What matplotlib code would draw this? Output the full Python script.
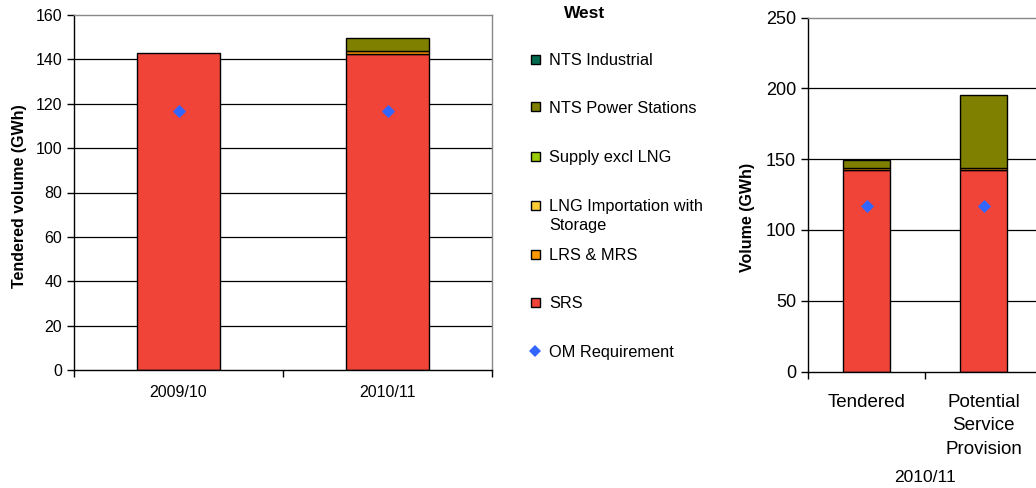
import matplotlib
matplotlib.use("Agg")
import matplotlib.pyplot as plt
import numpy as np
from matplotlib.patches import Rectangle
from matplotlib.lines import Line2D

plt.rcParams['font.family'] = ['Liberation Sans', 'DejaVu Sans']

# Left panel: tendered volume by year
years = ["2009/10", "2010/11"]
srs = [142.8, 142.6]
lrs_mrs = [0.0, 1.4]
lng_storage = [0.0, 0.0]
supply_excl_lng = [0.0, 0.0]
nts_power = [0.0, 5.6]
nts_industrial = [0.0, 0.0]
om_requirement = [116.8, 116.8]

# Right panel: 2010/11 tendered vs potential provision
cats_right = ["Tendered", "Potential\nService\nProvision"]
srs_r = [142.6, 142.6]
lrs_mrs_r = [1.4, 1.4]
nts_power_r = [5.6, 51.0]
om_r = [117.0, 117.0]
group_label = "2010/11"

series_names = ["NTS Industrial", "NTS Power Stations", "Supply excl LNG",
                "LNG Importation with\nStorage", "LRS & MRS", "SRS"]
series_colors = ["#006b4f", "#808000", "#99cc00", "#ffcc33", "#ff9900", "#f04438"]
om_color = "#3366ff"

W, H = 1036, 488
fig = plt.figure(figsize=(W / 100, H / 100), dpi=100)


def style_axes(ax, grid_vals, top_color):
    ax.set_axisbelow(True)
    for v in grid_vals:
        ax.axhline(v, color="black", lw=0.9, zorder=0)
    ax.spines['left'].set_color("black")
    ax.spines['bottom'].set_color("black")
    ax.spines['top'].set_color(top_color)
    ax.spines['right'].set_color(top_color)
    for s in ax.spines.values():
        s.set_linewidth(1.0)
    ax.tick_params(axis='y', direction='out', length=5, width=1, color='black')
    ax.tick_params(axis='x', which='major', length=0)
    ax.tick_params(axis='x', which='minor', direction='out', length=5, width=1, color='black')


# ---------- left chart ----------
ax1 = fig.add_axes([74 / W, 118 / H, 418 / W, 355 / H])
x1 = np.arange(len(years))
w1 = 0.40
bottom = np.zeros(len(years))
stack1 = [(srs, series_colors[5]), (lrs_mrs, series_colors[4]), (lng_storage, series_colors[3]),
          (supply_excl_lng, series_colors[2]), (nts_power, series_colors[1]),
          (nts_industrial, series_colors[0])]
for vals, col in stack1:
    vals = np.array(vals)
    mask = vals > 0
    ax1.bar(x1[mask], vals[mask], w1, bottom=bottom[mask], color=col,
            edgecolor="black", linewidth=1.0, zorder=2)
    bottom += vals
ax1.scatter(x1, om_requirement, marker="D", s=45, color=om_color, zorder=3, linewidths=0)
ax1.set_xlim(-0.5, len(years) - 0.5)
ax1.set_ylim(0, 160)
ax1.set_yticks(np.arange(0, 161, 20))
ax1.set_xticks(x1)
ax1.set_xticklabels(years, fontsize=11.5)
ax1.set_xticks(np.arange(-0.5, len(years)), minor=True)
ax1.tick_params(axis='y', labelsize=11.5)
ax1.tick_params(axis='x', pad=11)
style_axes(ax1, np.arange(20, 160, 20), "#888888")
ax1.set_ylabel("Tendered volume (GWh)", fontsize=11.5, fontweight="bold")
ax1.yaxis.set_label_coords(-47 / 418, 0.49)

# ---------- legend ----------
fig.text(585 / W, 1 - 14 / H, "West", fontsize=12.5, fontweight="bold",
         ha="center", va="center")
entry_y = [59, 107, 156, 205, 254, 302, 351]
sq = 9
for i, name in enumerate(series_names):
    y = entry_y[i]
    fig.add_artist(Rectangle(((535 - sq / 2) / W, 1 - (y + sq / 2) / H), sq / W, sq / H,
                             transform=fig.transFigure, facecolor=series_colors[i],
                             edgecolor="black", linewidth=1.0))
    fig.text(549 / W, 1 - (y - 6) / H, name, fontsize=11.8, ha="left", va="top",
             linespacing=1.3)
y = entry_y[-1]
fig.add_artist(Line2D([535 / W], [1 - y / H], transform=fig.transFigure, marker="D",
                      linestyle="none", color=om_color, markersize=6.5, markeredgewidth=0))
fig.text(549 / W, 1 - (y - 6) / H, "OM Requirement", fontsize=11.8, ha="left", va="top")

# ---------- right chart ----------
ax2 = fig.add_axes([808 / W, 116.5 / H, 351 / W, 354 / H])
x2 = np.arange(len(cats_right))
w2 = 0.40
bottom = np.zeros(len(cats_right))
for vals, col in [(srs_r, series_colors[5]), (lrs_mrs_r, series_colors[4]),
                  (nts_power_r, series_colors[1])]:
    ax2.bar(x2, vals, w2, bottom=bottom, color=col, edgecolor="black",
            linewidth=1.0, zorder=2)
    bottom += np.array(vals)
ax2.scatter(x2, om_r, marker="D", s=45, color=om_color, zorder=3, linewidths=0)
ax2.set_xlim(-0.5, 2.5)
ax2.set_ylim(0, 250)
ax2.set_yticks(np.arange(0, 251, 50))
ax2.tick_params(axis='y', labelsize=13)
ax2.set_xticks(x2)
ax2.set_xticklabels(cats_right, fontsize=13.5, linespacing=1.5)
ax2.set_xticks(np.arange(-0.5, 3), minor=True)
ax2.tick_params(axis='x', pad=16)
style_axes(ax2, np.arange(50, 250, 50), "#888888")
ax2.set_ylabel("Volume (GWh)", fontsize=11.5, fontweight="bold")
ax2.yaxis.set_label_coords(-53 / 351, (371.5 - 217) / 354)
ax2.text(0.5, -(478 - 371.5) / 354, group_label, transform=ax2.get_xaxis_transform(),
         fontsize=12.5, ha="center", va="center")

fig.savefig("out.png", dpi=100)
